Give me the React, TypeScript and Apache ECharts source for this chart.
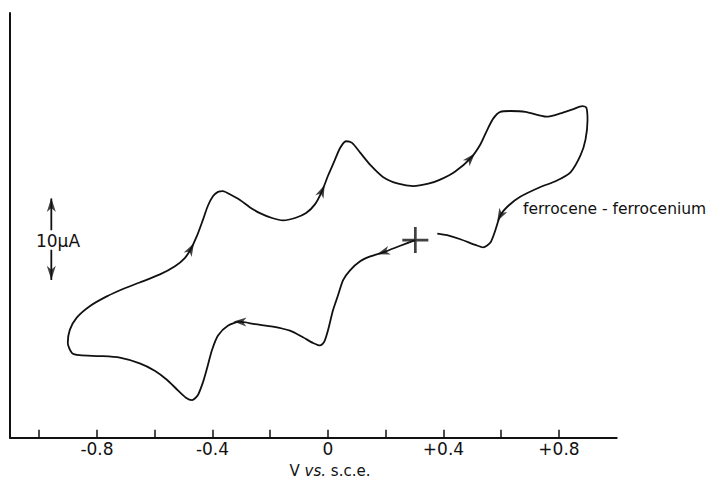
import React, { useEffect, useRef } from 'react';
import * as echarts from 'echarts';

// Cyclic voltammogram: potential (V vs. s.c.e.) and current (µA), in scan order,
// starting at the "+" mark, scanning negative, then positive, then back.
const scanPotential = [
  0.303, 0.251, 0.192, 0.147, 0.112, 0.077, 0.053, 0.036, 0.018, 0.001,
  -0.013, -0.027, -0.051, -0.086, -0.131, -0.19, -0.252, -0.304, -0.346, -0.38,
  -0.401, -0.418, -0.432, -0.45, -0.47, -0.491, -0.519, -0.557, -0.599, -0.651,
  -0.72, -0.789, -0.859, -0.886, -0.9,
  -0.893, -0.869, -0.824, -0.765, -0.703, -0.651, -0.581, -0.529, -0.495, -0.474,
  -0.453, -0.432, -0.415, -0.397, -0.38, -0.363, -0.339, -0.304, -0.269, -0.235,
  -0.193, -0.155, -0.113, -0.075, -0.044, -0.02, 0.001, 0.022, 0.043, 0.063,
  0.084, 0.112, 0.147, 0.192, 0.244, 0.296, 0.348, 0.389, 0.441, 0.494,
  0.528, 0.552, 0.573, 0.597, 0.632, 0.684, 0.757, 0.805, 0.847, 0.881,
  0.895, 0.899, 0.892, 0.875, 0.84, 0.788, 0.736, 0.666, 0.625, 0.597,
  0.58, 0.563, 0.538, 0.511, 0.459, 0.413, 0.379,
];
const scanCurrent = [
  24.2, 23.5, 22.7, 22.2, 21.6, 20.5, 19.3, 17.5, 15.6, 13.2,
  11.7, 11.3, 11.6, 12.3, 13.1, 13.6, 13.9, 14.2, 13.7, 12.5,
  10.7, 8.5, 6.8, 5.2, 4.6, 4.9, 5.8, 7.1, 8.2, 9.1,
  9.8, 10.0, 10.1, 10.4, 11.6,
  13.2, 14.7, 16.1, 17.3, 18.3, 19.0, 20.0, 21.0, 22.0, 23.1,
  24.7, 26.7, 28.4, 29.6, 30.1, 30.2, 29.8, 29.1, 28.2, 27.5,
  26.9, 26.6, 26.9, 27.5, 28.6, 30.2, 32.1, 33.8, 35.5, 36.3,
  36.1, 34.9, 33.4, 31.9, 31.1, 30.8, 31.1, 31.6, 32.6, 34.2,
  35.9, 37.7, 39.1, 39.9, 40.0, 39.9, 39.3, 39.7, 40.2, 40.6,
  40.4, 38.9, 36.5, 34.6, 32.5, 31.4, 30.7, 29.5, 28.4, 27.2,
  25.4, 23.9, 23.3, 23.6, 24.3, 24.8, 25.0,
];

// Direction arrows on the trace: potential, current, heading (deg)
const arrowPotential = [-0.474, -0.02, 0.494, 0.597, -0.304, 0.192];
const arrowCurrent = [23.1, 30.2, 34.2, 27.2, 14.2, 22.7];
const arrowHeading = [-29, -24, -42, 152, 88, 108];

// Starting point "+"
const startPotential = 0.303;
const startCurrent = 24.2;

// 10 µA scale bar
const scaleBarPotential = -0.957;
const scaleBarUpper = [25.4, 29.3];
const scaleBarLower = [23.0, 19.3];
const scaleBarHeads = [28.5, 20.2];
const scaleBarLabel = '10\u00b5A';

// x-axis ticks and labels
const tickValues = [-0.8, -0.4, 0, 0.4, 0.8];
const tickLabels = ['-0.8', '-0.4', '0', '+0.4', '+0.8'];

const FONT = 'DejaVu Sans';
const ARROW = 'path://M5,0 L10,14 L5,10 L0,14 Z';

export default function App() {
  const ref = useRef<HTMLDivElement>(null);
  useEffect(() => {
    if (!ref.current) return;
    const chart = echarts.init(ref.current, undefined, { renderer: 'svg' });
    const curve = scanPotential.map((v, i) => [v, scanCurrent[i]]);
    const arrows = arrowPotential.map((v, i) => [v, arrowCurrent[i], arrowHeading[i]]);
    const black = '#111';
    chart.setOption({
      animation: false,
      backgroundColor: '#fff',
      grid: [
        { left: 10, right: 95.3, top: 13, bottom: 43.3, outerBoundsMode: 'none' },
        { left: 39.2, right: 153, top: 13, bottom: 43.3, outerBoundsMode: 'none' },
      ],
      xAxis: [
        {
          gridIndex: 0, type: 'value', min: -1.1, max: 1.0,
          axisLine: { show: true, onZero: false, lineStyle: { color: black, width: 2 } },
          axisTick: { show: false }, axisLabel: { show: false }, splitLine: { show: false },
        },
        {
          gridIndex: 1, type: 'value', min: -1.0, max: 0.8, interval: 0.2,
          axisLine: { show: false, onZero: false },
          axisTick: { show: true, inside: true, length: 8, lineStyle: { color: black, width: 1.5 } },
          axisLabel: {
            color: black, fontSize: 17, fontFamily: FONT, margin: 3,
            formatter: (v: number) => {
              const k = tickValues.findIndex((t) => Math.abs(t - v) < 1e-6);
              return k >= 0 ? tickLabels[k] : '';
            },
          },
          splitLine: { show: false },
        },
      ],
      yAxis: [
        {
          gridIndex: 0, type: 'value', min: 0, max: 52,
          axisLine: { show: true, onZero: false, lineStyle: { color: black, width: 2 } },
          axisTick: { show: false }, axisLabel: { show: false }, splitLine: { show: false },
        },
        { gridIndex: 1, type: 'value', min: 0, max: 52, show: false },
      ],
      series: [
        {
          type: 'line', data: curve, showSymbol: false, smooth: 0.25,
          lineStyle: { color: black, width: 1.8 }, silent: true,
        },
        {
          type: 'scatter', data: arrows, symbol: ARROW, symbolSize: [9, 13],
          symbolRotate: (val: number[]) => val[2],
          itemStyle: { color: black }, silent: true,
        },
        {
          type: 'scatter', data: [[startPotential, startCurrent]],
          symbol: 'path://M11.2,0 H13.8 V25 H11.2 Z M0,11.2 H25 V13.8 H0 Z',
          symbolSize: [26, 26], itemStyle: { color: black }, silent: true,
        },
        {
          type: 'line', data: scaleBarUpper.map((c) => [scaleBarPotential, c]), showSymbol: false,
          lineStyle: { color: black, width: 1.8 }, silent: true,
        },
        {
          type: 'line', data: scaleBarLower.map((c) => [scaleBarPotential, c]), showSymbol: false,
          lineStyle: { color: black, width: 1.8 }, silent: true,
        },
        {
          type: 'scatter', data: scaleBarHeads.map((c, i) => [scaleBarPotential, c, i === 0 ? 0 : 180]),
          symbol: ARROW, symbolSize: [9, 14],
          symbolRotate: (val: number[]) => val[2],
          itemStyle: { color: black }, silent: true,
        },
      ],
      graphic: [
        {
          type: 'text', x: 58, y: 241,
          style: { text: scaleBarLabel, fontSize: 17, fontFamily: FONT, fill: black, align: 'center', verticalAlign: 'middle' },
        },
        {
          type: 'text', x: 523, y: 209,
          style: { text: 'ferrocene - ferrocenium', fontSize: 15.5, fontFamily: FONT, fill: black, align: 'left', verticalAlign: 'middle' },
        },
        {
          type: 'text', x: 330, y: 471,
          style: {
            text: '{a|V }{b|vs.}{a| s.c.e.}', align: 'center', verticalAlign: 'middle',
            rich: {
              a: { fontSize: 15, fontFamily: FONT, fill: black },
              b: { fontSize: 15, fontFamily: FONT, fontStyle: 'italic', fill: black },
            },
          },
        },
      ],
    });
    return () => chart.dispose();
  }, []);
  return <div ref={ref} style={{ position: 'fixed', left: 0, top: 0, width: 712, height: 481 }} />;
}
